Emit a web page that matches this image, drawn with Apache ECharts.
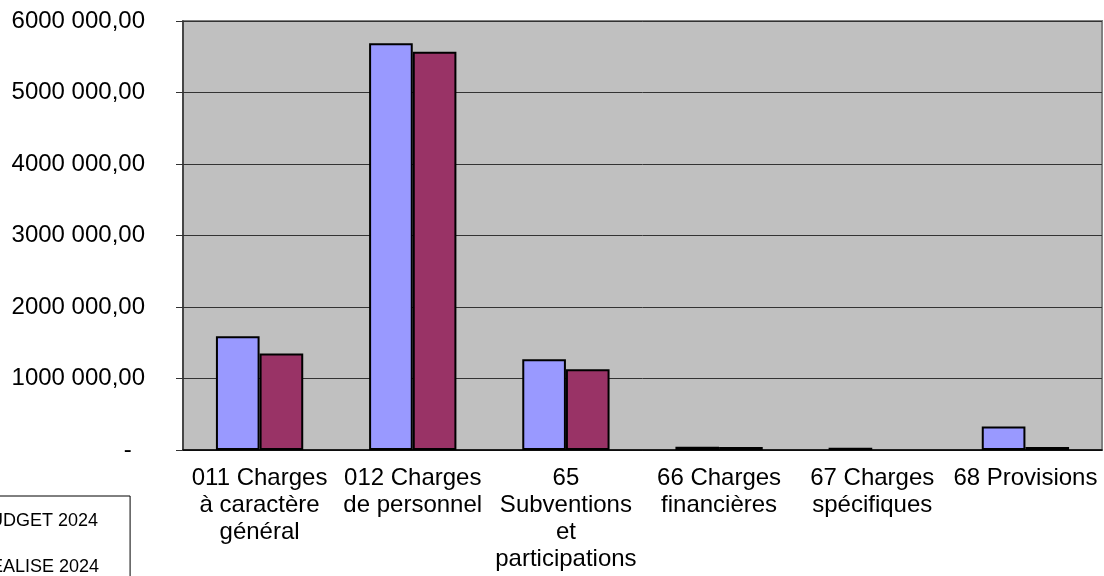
<!DOCTYPE html>
<html>
<head>
<meta charset="utf-8">
<script src="https://cdn.jsdelivr.net/npm/echarts@6/dist/echarts.min.js"></script>
<style>
html, body { margin: 0; padding: 0; background: #fff; }
#chart { width: 1104px; height: 576px; }
</style>
</head>
<body>
<div id="chart"></div>
<script>
// categories (chapitres)
var categories = [
	'011 Charges\nà caractère\ngénéral',
	'012 Charges\nde personnel',
	'65\nSubventions\net\nparticipations',
	'66 Charges\nfinancières',
	'67 Charges\nspécifiques',
	'68 Provisions'
];
var seriesNames = ['BUDGET 2024', 'REALISE 2024'];
var budget = [1590000, 5690000, 1270000, 45000, 30000, 330000];
var realise = [1350000, 5570000, 1130000, 42000, null, 42000];
// y tick labels, 0 -> 6 000 000
var yTickLabels = ['-  ', '1000 000,00', '2000 000,00', '3000 000,00', '4000 000,00', '5000 000,00', '6000 000,00'];

var font = 'Liberation Sans';
var chart = echarts.init(document.getElementById('chart'));
var option = {
	animation: false,
	textStyle: { fontFamily: font, color: '#000' },
	legend: {
		data: seriesNames,
		orient: 'vertical',
		left: -48,
		top: 496,
		height: 140,
		padding: [16, 31, 16, 8],
		itemGap: 28,
		itemWidth: 12,
		itemHeight: 12,
		borderColor: '#000',
		borderWidth: 1,
		icon: 'rect',
		textStyle: { fontFamily: font, fontSize: 18, color: '#000' }
	},
	grid: {
		left: 183,
		right: 2,
		top: 21,
		bottom: 126,
		show: true,
		backgroundColor: '#C0C0C0',
		borderColor: '#808080',
		borderWidth: 2
	},
	xAxis: {
		type: 'category',
		data: categories,
		axisLine: { lineStyle: { color: '#000', width: 1.5 } },
		axisTick: { length: 8, lineStyle: { color: '#000' } },
		axisLabel: {
			interval: 0,
			margin: 15,
			fontFamily: font,
			fontSize: 24,
			lineHeight: 27,
			color: '#000'
		}
	},
	yAxis: {
		type: 'value',
		min: 0,
		max: 6000000,
		interval: 1000000,
		axisLine: { show: true, lineStyle: { color: '#333', width: 1.5 } },
		axisTick: { show: true, length: 7, lineStyle: { color: '#333' } },
		splitLine: { lineStyle: { color: '#333', width: 1 } },
		axisLabel: {
			margin: 38,
			fontFamily: font,
			fontSize: 24,
			color: '#000',
			formatter: function (v) {
				return yTickLabels[Math.round(v / 1000000)];
			}
		}
	},
	series: [
		{
			name: seriesNames[0],
			type: 'bar',
			data: budget,
			barGap: '0%',
			barCategoryGap: '43%',
			itemStyle: { color: '#9999FF', borderColor: '#000', borderWidth: 2 }
		},
		{
			name: seriesNames[1],
			type: 'bar',
			data: realise,
			itemStyle: { color: '#993366', borderColor: '#000', borderWidth: 2 }
		}
	]
};
chart.setOption(option, true);
</script>
</body>
</html>
